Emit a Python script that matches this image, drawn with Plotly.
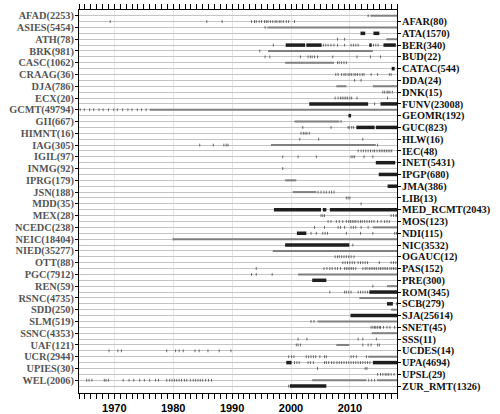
import plotly.graph_objects as go

# agencies in alphabetical order; even rows labelled left, odd rows labelled right
agencies = [
    "AFAD", "AFAR", "ASIES", "ATA", "ATH", "BER", "BRK", "BUD",
    "CASC", "CATAC", "CRAAG", "DDA", "DJA", "DNK", "ECX", "FUNV",
    "GCMT", "GEOMR", "GII", "GUC", "HIMNT", "HLW", "IAG", "IEC",
    "IGIL", "INET", "INMG", "IPGP", "IPRG", "JMA", "JSN", "LIB",
    "MDD", "MED_RCMT", "MEX", "MOS", "NCEDC", "NDI", "NEIC", "NIC",
    "NIED", "OGAUC", "OTT", "PAS", "PGC", "PRE", "REN", "ROM",
    "RSNC", "SCB", "SDD", "SJA", "SLM", "SNET", "SSNC", "SSS",
    "UAF", "UCDES", "UCR", "UPA", "UPIES", "UPSL", "WEL", "ZUR_RMT",
]
event_counts = [
    2253, 80, 5454, 1570, 78, 340, 981, 22,
    1062, 544, 36, 24, 786, 15, 20, 23008,
    49794, 192, 667, 823, 16, 16, 305, 48,
    97, 5431, 92, 680, 179, 386, 188, 13,
    35, 2043, 28, 123, 238, 115, 18404, 3532,
    35277, 12, 88, 152, 7912, 300, 59, 345,
    4735, 279, 250, 25614, 519, 45, 4353, 11,
    121, 14, 2944, 4694, 30, 29, 2006, 1326,
]

# continuous coverage, drawn as thin grey bars (start year, end year)
grey_spans = {
    "AFAD": [(2013.5, 2018)],
    "ASIES": [(1996.0, 2018)],
    "ATH": [(2016.2, 2018)],
    "BRK": [(1996.1, 2013.9)],
    "CASC": [(1999.0, 2007.3)],
    "DJA": [(2007.7, 2009.4), (2013.9, 2018)],
    "GCMT": [(1976.0, 2018)],
    "GII": [(2000.6, 2008.2)],
    "IAG": [(1996.6, 2014.4)],
    "IPRG": [(1999.0, 2000.9)],
    "JSN": [(2000.3, 2004.3)],
    "NCEDC": [(2013.9, 2018)],
    "NEIC": [(1980.1, 2018)],
    "NIED": [(1996.9, 2018)],
    "PGC": [(2001.2, 2018)],
    "REN": [(2016.3, 2018)],
    "RSNC": [(2011.6, 2018)],
    "SDD": [(2017.0, 2018)],
    "SLM": [(2004.5, 2018)],
    "SSNC": [(2013.7, 2018)],
    "UAF": [(2007.7, 2009.9)],
    "UCR": [(2013.1, 2018)],
    "WEL": [(2003.6, 2012.8), (2014.6, 2018)],
}

# dense periods, drawn as thick dark bars
dark_spans = {
    "ATA": [(2011.8, 2012.6), (2014.0, 2015.0)],
    "BER": [(1999.1, 2002.4), (2002.6, 2005.2), (2013.3, 2013.7), (2015.7, 2017.8)],
    "CATAC": [(2017.1, 2017.6)],
    "FUNV": [(2003.1, 2013.1), (2015.2, 2018)],
    "GEOMR": [(2009.75, 2010.2)],
    "GUC": [(2011.1, 2014.2), (2014.4, 2018)],
    "INET": [(2014.4, 2017.7)],
    "IPGP": [(2014.9, 2018)],
    "JMA": [(2016.4, 2018)],
    "MED_RCMT": [(1997.1, 2005.1), (2005.4, 2006.0), (2006.6, 2018)],
    "NDI": [(2001.0, 2002.6)],
    "NIC": [(1999.0, 2009.9)],
    "PRE": [(2003.6, 2006.0)],
    "ROM": [(2013.3, 2018)],
    "SCB": [(2016.3, 2017.3)],
    "SJA": [(2010.1, 2018)],
    "UPA": [(1999.2, 2000.1), (2013.9, 2018)],
    "ZUR_RMT": [(1999.8, 2006.0)],
}

# isolated events (decimal year)
single_events = {
    "AFAD": [2013.1],
    "AFAR": [1969.3, 1985.7, 1988.3, 1993.3, 1993.8, 1994.1, 1994.6, 1995.0, 1995.5,
             1995.8, 1996.1, 1996.5, 1996.9, 1997.3, 1997.6, 1998.0, 1998.3, 1998.7,
             1999.2, 1999.6, 2000.6],
    "ASIES": [1995.6],
    "ATH": [2007.9, 2009.1],
    "BER": [1997.0, 2005.5, 2005.9, 2006.3, 2006.8, 2007.3, 2007.9, 2009.1, 2010.2,
            2010.6, 2011.0, 2011.4, 2014.0, 2014.4, 2014.8],
    "BRK": [1994.7],
    "BUD": [1995.6, 1996.4, 2001.6, 2002.9, 2003.3, 2003.6, 2004.0, 2004.5, 2007.1,
            2011.2, 2013.5, 2015.2],
    "CASC": [2007.9, 2008.2, 2008.6, 2009.0, 2009.4],
    "CRAAG": [2007.6, 2008.0, 2008.6, 2009.0, 2009.3, 2009.7, 2010.0, 2010.3, 2010.7,
              2011.0, 2011.3, 2011.7, 2012.1, 2012.4, 2013.6, 2014.7, 2016.7, 2017.0],
    "DDA": [2010.8, 2011.9],
    "DNK": [2015.6, 2015.9, 2016.3, 2016.5, 2016.8, 2017.2],
    "ECX": [2007.5, 2008.0, 2008.4, 2008.7, 2009.0, 2009.3, 2009.6, 2010.0, 2010.3,
            2011.2, 2016.4],
    "FUNV": [2014.2],
    "GCMT": [1964.2, 1964.9, 1965.8, 1966.5, 1967.4, 1968.1, 1969.0, 1969.9, 1970.5,
             1971.4, 1972.3, 1973.0, 1973.9, 1974.6, 1975.4],
    "GII": [2008.5],
    "GUC": [2002.0, 2006.8, 2009.7, 2009.9, 2010.3, 2010.6],
    "HIMNT": [2001.7, 2002.1, 2002.4, 2002.7, 2003.1],
    "HLW": [2001.5, 2004.7, 2012.2],
    "IAG": [1984.5, 1986.8, 1988.6, 1989.0, 1989.3, 2014.7],
    "IEC": [2011.4, 2011.9, 2012.3, 2012.7, 2013.1, 2013.5, 2013.9, 2014.2, 2014.6,
            2015.0, 2015.3, 2015.6, 2015.9, 2016.2, 2016.5, 2016.8, 2017.1],
    "IGIL": [1998.6, 2001.2, 2004.3, 2010.2, 2010.5, 2010.8, 2012.4, 2013.9],
    "INMG": [1998.6],
    "JSN": [2004.6, 2005.1, 2005.6, 2006.0, 2006.5, 2006.9, 2007.3],
    "LIB": [2009.4, 2009.7, 2010.0],
    "MDD": [2011.9],
    "MEX": [2005.1, 2005.4, 2005.7, 2017.0, 2017.4, 2017.8, 2018.0],
    "MOS": [2006.3, 2006.8, 2007.7, 2008.2, 2008.8, 2009.4, 2009.8, 2010.1, 2010.4,
            2010.7, 2011.0, 2011.4, 2011.8, 2012.1, 2012.5, 2012.9, 2013.3, 2013.7,
            2014.1, 2014.7, 2015.3, 2015.9, 2016.3, 2016.7],
    "NCEDC": [2004.0, 2005.7, 2008.0, 2008.4, 2009.1, 2010.2, 2010.6, 2011.0, 2011.9,
              2013.1],
    "NDI": [2003.4, 2004.3, 2005.4, 2005.8, 2006.2, 2009.4, 2011.8, 2013.9, 2017.6,
            2017.9],
    "NEIC": [1980.0],
    "NIC": [2010.5],
    "OGAUC": [2007.5, 2007.9, 2008.2, 2008.6, 2009.0, 2009.4, 2009.8, 2010.2, 2010.7],
    "OTT": [2008.8, 2009.2, 2009.6, 2010.0, 2010.4, 2010.8, 2011.4, 2011.8, 2012.2,
            2012.6, 2013.0, 2015.0, 2017.0, 2017.4, 2017.8],
    "PAS": [1994.1, 2005.6, 2006.1, 2006.6, 2007.0, 2007.5, 2007.9, 2008.4, 2009.1,
            2009.4, 2009.7, 2010.0, 2010.3, 2010.6, 2011.0, 2012.2, 2012.6, 2012.9,
            2013.3, 2013.6, 2013.9, 2014.2, 2014.5, 2014.9, 2015.2, 2015.5, 2015.8,
            2016.1, 2016.4, 2016.8, 2017.1, 2017.4, 2017.7, 2018.0],
    "PGC": [1993.3, 1994.1, 1996.8],
    "REN": [2013.9],
    "ROM": [2006.6, 2009.1, 2009.4, 2009.8, 2010.2, 2011.4, 2011.8, 2012.2, 2012.6,
            2013.0],
    "SCB": [2017.9],
    "SLM": [2003.4, 2003.9],
    "SNET": [2013.6, 2013.9, 2014.2, 2014.4, 2014.7, 2015.0, 2015.2, 2015.7, 2016.3,
             2016.8, 2017.6],
    "SSS": [2001.2, 2002.7, 2011.4, 2012.2, 2014.5],
    "UAF": [2000.9, 2001.2, 2001.6, 2012.2, 2013.1, 2013.6, 2014.7, 2015.0],
    "UCDES": [1969.1, 1970.6, 1971.2, 1978.9, 1980.4, 1981.0, 1981.7, 1983.7, 1984.4,
              1985.9, 1987.8, 1989.8],
    "UCR": [1999.6, 2000.1, 2000.5, 2002.6, 2003.0, 2003.4, 2003.8, 2004.2, 2004.9,
            2005.7, 2006.0, 2010.2, 2010.6, 2011.1, 2012.8],
    "UPA": [2000.6, 2001.0, 2001.4, 2002.9, 2003.3, 2003.8, 2005.7, 2006.0, 2006.4,
            2006.9, 2007.3, 2007.8, 2008.2, 2008.6, 2009.0, 2009.4, 2009.8, 2010.2,
            2010.6, 2011.0, 2011.4, 2011.8, 2012.2, 2012.6, 2013.0, 2013.4],
    "UPIES": [2004.5, 2012.6, 2012.9],
    "UPSL": [2014.7, 2015.2, 2015.6, 2016.0, 2016.3, 2016.6, 2017.0, 2017.5],
    "WEL": [1965.3, 1965.7, 1966.2, 1968.3, 1968.6, 1969.0, 1971.5, 1972.5, 1973.3,
            1974.3, 1975.1, 1976.0, 1977.0, 1977.5, 1978.9, 1979.4, 1979.8, 1980.2,
            1980.6, 1981.0, 1981.4, 1981.9, 1982.3, 1982.9, 1983.4, 1983.8, 1984.2,
            1984.6, 1985.0, 1985.5, 1986.0, 1986.5, 2013.2, 2013.7, 2014.2],
    "ZUR_RMT": [1999.6],
}

year_range = [1964, 2018]


def span_xy(spans):
    xs, ys = [], []
    for row, name in enumerate(agencies):
        for start, end in spans.get(name, []):
            xs += [start, end, None]
            ys += [row, row, None]
    return xs, ys


grey_x, grey_y = span_xy(grey_spans)
dark_x, dark_y = span_xy(dark_spans)

ev_x, ev_y = [], []
for row, name in enumerate(agencies):
    for t in single_events.get(name, []):
        ev_x.append(t)
        ev_y.append(row)

labels = [f"{n}({c})" for n, c in zip(agencies, event_counts)]
rows = list(range(len(agencies)))

fig = go.Figure()
fig.add_trace(go.Scatter(
    x=grey_x, y=grey_y, mode="lines", yaxis="y2",
    line=dict(color="#808080", width=2), hoverinfo="skip",
))
fig.add_trace(go.Scatter(
    x=dark_x, y=dark_y, mode="lines",
    line=dict(color="#1e1e1e", width=3.5), hoverinfo="skip",
))
fig.add_trace(go.Scatter(
    x=ev_x, y=ev_y, mode="markers",
    marker=dict(symbol="line-ns", size=2,
                line=dict(color="rgba(50,50,50,0.7)", width=1)),
    hoverinfo="skip",
))

y_lim = [64.17, -0.97]
grid_col = "#c4c4c4"
label_font = dict(family="Liberation Serif", size=10.3, weight="bold")

fig.update_layout(
    width=500, height=414,
    margin=dict(l=79, r=103, t=10, b=21),
    paper_bgcolor="white", plot_bgcolor="white",
    showlegend=False,
    xaxis=dict(
        range=year_range, tick0=1970, dtick=10, automargin=False,
        ticks="outside", ticklen=5, tickcolor="black",
        minor=dict(dtick=1, ticks="outside", ticklen=3, tickcolor="black", showgrid=False),
        showline=True, linecolor="black", linewidth=1, mirror="allticks",
        showgrid=True, gridcolor="#e6e6e6", gridwidth=1, zeroline=False,
        tickfont=dict(family="Liberation Sans", size=11, color="black", weight="bold"),
    ),
    yaxis=dict(
        range=y_lim, tickmode="array", automargin=False,
        tickvals=rows[0::2], ticktext=labels[0::2],
        ticks="outside", ticklen=3, tickcolor="black", ticklabelstandoff=-1,
        showline=True, linecolor="black", linewidth=1,
        showgrid=True, gridcolor=grid_col, gridwidth=1, zeroline=False,
        tickfont=dict(color="#555555", **label_font),
    ),
    yaxis2=dict(
        range=y_lim, overlaying="y", side="right", tickmode="array", automargin=False,
        tickvals=rows[1::2], ticktext=labels[1::2],
        ticks="outside", ticklen=3, tickcolor="black", ticklabelstandoff=-1,
        showline=True, linecolor="black", linewidth=1,
        showgrid=True, gridcolor=grid_col, gridwidth=1, zeroline=False,
        tickfont=dict(color="#111111", **label_font),
    ),
)

# the page's default body margin would push the 500x414 figure off-canvas
fig.write_html(
    "out.html",
    config={"displayModeBar": False},
    post_script="document.body.style.margin = '0';",
)
